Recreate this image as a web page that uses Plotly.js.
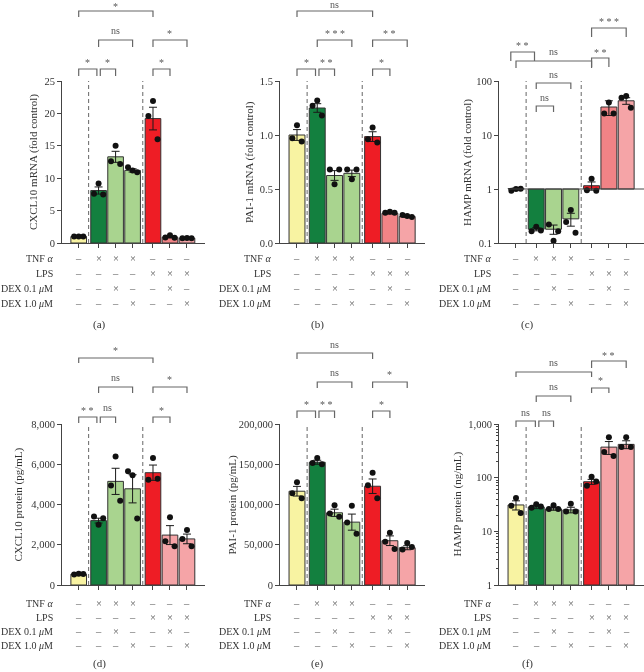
<!DOCTYPE html>
<html><head><meta charset="utf-8">
<script src="https://cdn.plot.ly/plotly-3.0.1.min.js"></script>
<style>
html,body{margin:0;padding:0;background:#fff}
#chart{width:644px;height:672px}
.main-svg{will-change:transform}
</style>
</head><body><div id="chart"></div>
<script>
// ---------- data ----------
const barPositions = [0, 1.17, 2.17, 3.17, 4.37, 5.37, 6.37];

// (a) CXCL10 mRNA (fold control)
const cxclMrnaMean = [1.0, 8.1, 13.3, 11.2, 19.2, 0.9, 0.75];
const cxclMrnaErr  = [0.05, 0.55, 0.85, 0.25, 1.75, 0.12, 0.03];
const cxclMrnaPts  = [[1.0,1.02,1.0],[7.6,9.2,7.5],[12.6,15.0,12.2],[11.7,11.2,10.9],[19.6,21.9,16.0],[0.85,1.2,0.8],[0.75,0.78,0.75]];

// (b) PAI-1 mRNA (fold control)
const paiMrnaMean = [1.0, 1.25, 0.625, 0.645, 0.985, 0.275, 0.245];
const paiMrnaErr  = [0.05, 0.04, 0.045, 0.03, 0.045, 0.006, 0.008];
const paiMrnaPts  = [[0.97,1.09,0.94],[1.27,1.32,1.18],[0.68,0.545,0.68],[0.68,0.59,0.68],[0.96,1.07,0.93],[0.28,0.29,0.28],[0.26,0.25,0.24]];

// (c) HAMP mRNA (fold control), log scale
const hampMrnaMean = [1.02, 0.18, 0.18, 0.28, 1.15, 33, 43];
const hampMrnaErr  = [0.02, 0.012, 0.035, 0.075, 0.2, 10, 6];
const hampMrnaPts  = [[0.93,1.0,1.01],[0.165,0.2,0.17],[0.22,0.11,0.165],[0.245,0.41,0.155],[0.95,1.55,0.93],[25,40,25],[49,53,32]];

// (d) CXCL10 protein (pg/mL)
const cxclProtMean = [540, 3200, 5150, 4780, 5580, 2480, 2290];
const cxclProtErr  = [20, 120, 650, 700, 380, 470, 240];
const cxclProtPts  = [[520,560,550],[3400,2990,3320],[4950,6380,4190],[5650,5450,3300],[5230,6310,5280],[2170,3370,1920],[2285,2730,1920]];

// (e) PAI-1 protein (pg/mL)
const paiProtMean = [116500, 152500, 89700, 78100, 122700, 55000, 46300];
const paiProtErr  = [6000, 2500, 4500, 10000, 9000, 6000, 2500];
const paiProtPts  = [[114000,127700,107900],[151600,157900,150000],[88800,99200,84700],[77700,98300,63600],[124000,139300,107900],[53700,64900,44600],[44200,52100,47100]];

// (f) HAMP protein (ng/mL), log scale
const hampProtMean = [31, 28.5, 26.2, 25.1, 84, 371, 417];
const hampProtErr  = [6, 2, 1.5, 3, 9, 100, 70];
const hampProtPts  = [[30,42,22],[27.5,32,29],[26,30.6,26],[23.3,32.5,23.3],[71,104,85],[300,569,253],[371,569,371]];

// treatment table
const rowLabels  = ['TNF <i>α</i>', 'LPS', 'DEX 0.1 <i>μ</i>M', 'DEX 1.0 <i>μ</i>M'];
const tnfMarks   = ['–','×','×','×','–','–','–'];
const lpsMarks   = ['–','–','–','–','×','×','×'];
const dex01Marks = ['–','–','×','–','–','×','–'];
const dex10Marks = ['–','–','–','×','–','–','×'];
const markRows = [tnfMarks, lpsMarks, dex01Marks, dex10Marks];

// ---------- styling / layout ----------
const W = 644, H = 672;
const FONT = 'Liberation Serif, Times New Roman, serif';
const colorsMrna = ['#F8F3A2','#13803F','#A9D48F','#A9D48F','#EE1D25','#F18386','#F5A4A7'];
const colorsProt = ['#F8F3A2','#13803F','#A9D48F','#A9D48F','#EE1D25','#F5A4A7','#F5A4A7'];
const PX = p => p / W;
const PY = p => 1 - p / H;

const panels = [
  {c0:78.7, u:17.0, top:81, bot:243, mean:cxclMrnaMean, err:cxclMrnaErr, pts:cxclMrnaPts, colors:colorsMrna,
   y:{range:[0,25], dtick:5}, title:'CXCL10 mRNA (fold control)', titleX:33, labelRight:55, rowsY:[258,273,288,303], tag:'(a)', tagX:99, tagY:325,
   br:[[0,4,0,0,11,17,'*',4],[1,3,0,0,40,47,'ns',31],[4,6,0,0,40,47,'*',31],[0,1,0,-0.1,69,76,'*',60],[1,2,0.1,0,69,76,'*',60],[4,5,0,0,69,76,'*',60]]},
  {c0:297, u:17.3, top:81, bot:243, mean:paiMrnaMean, err:paiMrnaErr, pts:paiMrnaPts, colors:colorsMrna,
   y:{range:[0,1.5], dtick:0.5, tickformat:'.1f'}, title:'PAI-1 mRNA (fold control)', titleX:249, labelRight:273, rowsY:[258,273,288,303], tag:'(b)', tagX:317, tagY:325,
   br:[[0,4,0,0,11,17,'ns',5],[1,3,0,0,40,47,'* * *',31],[4,6,0,0,40,47,'* *',31],[0,1,0,-0.1,69,76,'*',60],[1,2,0.1,0,69,76,'* *',60],[4,5,0,0,69,76,'*',60]]},
  {c0:516, u:17.3, top:81, bot:243, mean:hampMrnaMean, err:hampMrnaErr, pts:hampMrnaPts, colors:colorsMrna, log:true,
   y:{type:'log', range:[-1,2], dtick:1}, title:'HAMP mRNA (fold control)', titleX:467, labelRight:493, rowsY:[258,273,288,303], tag:'(c)', tagX:527, tagY:325,
   br:[[0,1,-0.3,-0.1,52,61,'* *',43],[0,4,0,0,61,68,'ns',52],[4,5,0,0,58,67,'* *',50],[4,6,0,0,28,37,'* * *',19],[1,3,0,0,83,89,'ns',74],[1,2,0,0,106,112,'ns',97]]},
  {c0:78.7, u:17.0, top:424, bot:585, mean:cxclProtMean, err:cxclProtErr, pts:cxclProtPts, colors:colorsProt,
   y:{range:[0,8000], dtick:2000, tickformat:',d'}, title:'CXCL10 protein (pg/mL)', titleX:18, labelRight:55, rowsY:[603,617,631,645], tag:'(d)', tagX:100, tagY:663,
   br:[[0,4,0,0,358,363,'*',348],[1,3,0,0,387,393,'ns',377],[4,6,0,0,387,393,'*',377],[0,1,0,-0.1,417,423,'* *',408],[1,2,0.1,0,417,423,'ns',408],[4,5,0,0,417,423,'*',408]]},
  {c0:297, u:17.3, top:424, bot:585, mean:paiProtMean, err:paiProtErr, pts:paiProtPts, colors:colorsProt,
   y:{range:[0,200000], dtick:50000, tickformat:',d'}, title:'PAI-1 protein (pg/mL)', titleX:232, labelRight:273, rowsY:[603,617,631,645], tag:'(e)', tagX:317, tagY:663,
   br:[[0,4,0,0,353,359,'ns',344],[1,3,0,0,382,388,'ns',372],[4,6,0,0,382,388,'*',372],[0,1,0,-0.1,411,418,'*',402],[1,2,0.1,0,411,418,'* *',402],[4,5,0,0,411,418,'*',402]]},
  {c0:516, u:17.3, top:424, bot:585, mean:hampProtMean, err:hampProtErr, pts:hampProtPts, colors:colorsProt, log:true,
   y:{type:'log', range:[0,3], dtick:1, tickformat:',d', minor:{ticks:'outside', ticklen:2.5, tickcolor:'#444', dtick:'D1', showgrid:false}},
   title:'HAMP protein (ng/mL)', titleX:457, labelRight:493, rowsY:[603,617,631,645], tag:'(f)', tagX:527, tagY:663,
   br:[[4,6,0,0,361,368,'* *',353],[0,4,0,0,372,377,'ns',362],[4,5,0,0,388,393,'*',378],[1,3,0,0,396,402,'ns',387],[0,1,0,-0.05,421,427,'ns',412],[1,2,0.15,0,421,427,'ns',412]]}
];

const data = [], shapes = [], annotations = [];
const layout = {
  width: W, height: H, margin: {l:0, r:0, t:0, b:0}, autosize: false, showlegend: false,
  paper_bgcolor: '#ffffff', plot_bgcolor: 'rgba(0,0,0,0)',
  font: {family: FONT, color: '#333', size: 10.5}, bargap: 0
};
const XR = [-0.98, 7.4];
const offs = [-0.27, 0, 0.27];

panels.forEach((p, i) => {
  const n = i === 0 ? '' : String(i + 1);
  const xa = 'x' + n, ya = 'y' + n;
  const dx0 = p.c0 + XR[0] * p.u, dx1 = p.c0 + XR[1] * p.u;
  layout['xaxis' + n] = {
    domain: [Math.max(0, PX(dx0)), Math.min(1, PX(dx1))], range: XR, anchor: ya,
    showgrid: false, zeroline: false, showline: true, linecolor: '#444', linewidth: 1,
    ticks: 'outside', ticklen: 4, tickcolor: '#444', tickwidth: 1,
    tickmode: 'array', tickvals: barPositions, showticklabels: false, fixedrange: true
  };
  layout['yaxis' + n] = Object.assign({
    domain: [PY(p.bot), PY(p.top)], anchor: xa,
    showgrid: false, zeroline: false, showline: true, linecolor: '#444', linewidth: 1,
    ticks: 'outside', ticklen: 4, tickcolor: '#444', tickwidth: 1,
    tickfont: {family: FONT, size: 10.5, color: '#333'}, fixedrange: true
  }, p.y);

  // bars
  const bar = {
    type: 'bar', xaxis: xa, yaxis: ya, x: barPositions,
    y: p.log ? p.mean.map(v => v - 1) : p.mean,
    width: 0.92, marker: {color: p.colors, line: {color: '#333', width: 1}}, hoverinfo: 'skip'
  };
  if (p.log) bar.base = 1;
  data.push(bar);

  // error bars
  data.push({
    type: 'scatter', mode: 'markers', xaxis: xa, yaxis: ya, x: barPositions, y: p.mean,
    marker: {size: 1, opacity: 0}, hoverinfo: 'skip',
    error_y: {type: 'data', array: p.err, visible: true, color: '#1a1a1a', thickness: 1, width: 4}
  });

  // individual points
  const xs = [], ys = [];
  p.pts.forEach((arr, k) => arr.forEach((v, j) => { xs.push(barPositions[k] + offs[j]); ys.push(v); }));
  data.push({
    type: 'scatter', mode: 'markers', xaxis: xa, yaxis: ya, x: xs, y: ys,
    marker: {size: 6, color: '#111'}, hoverinfo: 'skip', cliponaxis: false
  });

  // dashed separators
  [(barPositions[0] + barPositions[1]) / 2, (barPositions[3] + barPositions[4]) / 2].forEach(xv => {
    shapes.push({type: 'line', xref: xa, yref: ya + ' domain', x0: xv, x1: xv, y0: 0, y1: 1,
      line: {color: '#666', width: 1, dash: '4px,3px'}, layer: 'above'});
  });

  // baseline at 1 for HAMP mRNA
  if (i === 2) {
    shapes.push({type: 'line', xref: xa, yref: ya, x0: barPositions[0] - 0.46, x1: XR[1], y0: 1, y1: 1,
      line: {color: '#444', width: 1}, layer: 'above'});
  }

  // significance brackets
  p.br.forEach(b => {
    const [a, c, da, dc, yTop, yLeg, txt, ly] = b;
    const x1 = barPositions[a] + da, x2 = barPositions[c] + dc;
    const yt = PY(yTop), yl = PY(yLeg);
    shapes.push({type: 'path', xref: xa, yref: 'paper',
      path: `M ${x1},${yl} L ${x1},${yt} L ${x2},${yt} L ${x2},${yl}`,
      line: {color: '#666', width: 1.2}});
    const isStar = txt.indexOf('*') >= 0;
    annotations.push({xref: xa, yref: 'paper', x: (x1 + x2) / 2, y: PY(ly + (isStar ? 2.5 : 0)),
      text: txt, showarrow: false, xanchor: 'center', yanchor: 'middle',
      font: {family: FONT, size: 10, color: '#555'}});
  });

  // treatment table
  markRows.forEach((row, r) => {
    annotations.push({xref: 'paper', yref: 'paper', x: PX(p.labelRight), y: PY(p.rowsY[r]),
      text: rowLabels[r], showarrow: false, xanchor: 'right', yanchor: 'middle',
      font: {family: FONT, size: 10, color: '#333'}});
    row.forEach((m, k) => {
      annotations.push({xref: xa, yref: 'paper', x: barPositions[k], y: PY(p.rowsY[r]),
        text: m, showarrow: false, xanchor: 'center', yanchor: 'middle',
        font: {family: FONT, size: 10.5, color: '#555'}});
    });
  });

  // y-axis title
  annotations.push({xref: 'paper', yref: 'paper', x: PX(p.titleX), y: PY((p.top + p.bot) / 2),
    text: p.title, textangle: -90, showarrow: false, xanchor: 'center', yanchor: 'middle',
    font: {family: FONT, size: 11, color: '#333'}});

  // panel tag
  annotations.push({xref: 'paper', yref: 'paper', x: PX(p.tagX), y: PY(p.tagY),
    text: p.tag, showarrow: false, xanchor: 'center', yanchor: 'middle',
    font: {family: FONT, size: 11, color: '#333'}});
});

layout.shapes = shapes;
layout.annotations = annotations;
Plotly.newPlot('chart', data, layout, {displayModeBar: false, staticPlot: true});
</script>
</body></html>
